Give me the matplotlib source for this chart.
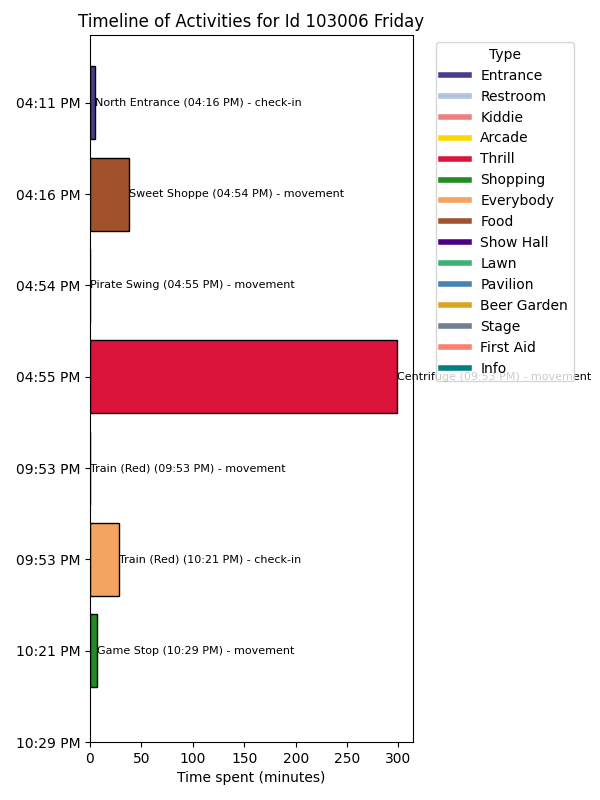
import matplotlib
matplotlib.use("Agg")
import matplotlib.pyplot as plt
from matplotlib.lines import Line2D

time_labels = ["04:11 PM", "04:16 PM", "04:54 PM", "04:55 PM", "09:53 PM", "09:53 PM", "10:21 PM", "10:29 PM"]
durations = [5, 38, 0.3, 299, 0, 28, 7]
bar_types = ["Entrance", "Food", "Kiddie", "Thrill", "Everybody", "Everybody", "Shopping"]
bar_labels = [
    "North Entrance (04:16 PM) - check-in",
    "Sweet Shoppe (04:54 PM) - movement",
    "Pirate Swing (04:55 PM) - movement",
    "Centrifuge (09:53 PM) - movement",
    "Train (Red) (09:53 PM) - movement",
    "Train (Red) (10:21 PM) - check-in",
    "Game Stop (10:29 PM) - movement",
]
type_names = ["Entrance", "Restroom", "Kiddie", "Arcade", "Thrill", "Shopping", "Everybody",
              "Food", "Show Hall", "Lawn", "Pavilion", "Beer Garden", "Stage", "First Aid", "Info"]
type_colors = ["darkslateblue", "lightsteelblue", "lightcoral", "gold", "crimson", "forestgreen",
               "sandybrown", "sienna", "indigo", "mediumseagreen", "steelblue", "goldenrod",
               "slategray", "salmon", "teal"]
cmap = dict(zip(type_names, type_colors))

fig, ax = plt.subplots(figsize=(6, 8), dpi=100)
for i, (d, t, lab) in enumerate(zip(durations, bar_types, bar_labels)):
    ax.barh(i, d, height=0.8, color=cmap[t], edgecolor="black")
    ax.text(d, i, lab, va="center", ha="left", fontsize=8)

ax.set_yticks(range(len(time_labels)))
ax.set_yticklabels(time_labels)
ax.invert_yaxis()
ax.set_xlabel("Time spent (minutes)")
ax.set_title("Timeline of Activities for Id 103006 Friday")

handles = [Line2D([0], [0], color=c, lw=4) for c in type_colors]
ax.legend(handles, type_names, title="Type", loc="upper left", bbox_to_anchor=(1.05, 1))

fig.subplots_adjust(left=0.15, right=0.688, top=0.956, bottom=0.0725)
fig.savefig("out.png")
